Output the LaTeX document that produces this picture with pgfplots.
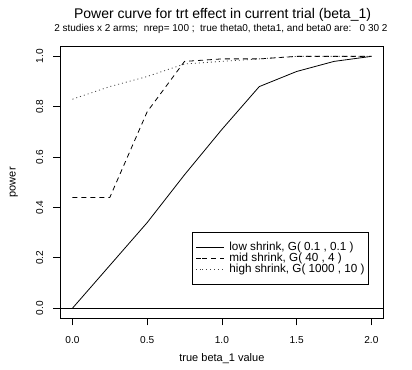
\documentclass[border=0pt]{standalone}
\usepackage{pgfplots}
\pgfplotsset{compat=1.18}
\usepackage{fontspec}
\setmainfont{Liberation Sans}
\pgfplotstableread{
x low mid high
0.00 0.00 0.44 0.83
0.25 0.17 0.44 0.88
0.50 0.34 0.78 0.92
0.75 0.53 0.98 0.97
1.00 0.71 0.99 0.98
1.25 0.88 0.99 0.99
1.50 0.94 1.00 1.00
1.75 0.98 1.00 1.00
2.00 1.00 1.00 1.00
}\datatable
\begin{document}
\begin{tikzpicture}[x=1bp,y=1bp]
\path[use as bounding box] (-60.5,-51.7) rectangle (351.5,318.3);
\begin{axis}[
  at={(0,0)}, anchor=south west,
  scale only axis, width=322.8bp, height=272bp,
  xmin=-0.08, xmax=2.08, ymin=-0.04, ymax=1.04,
  xtick={0,0.5,1,1.5,2}, ytick={0,0.2,0.4,0.6,0.8,1.0},
  xticklabels={0.0,0.5,1.0,1.5,2.0},
  yticklabels={0.0,0.2,0.4,0.6,0.8,1.0},
  xtick pos=bottom, ytick pos=left,
  tick align=outside, major tick length=7bp,
  tick style={black, line width=0.8bp},
  axis line style={line width=0.8bp},
  every tick label/.append style={font=\fontsize{10.1bp}{12bp}\selectfont, inner sep=0pt},
  xticklabel style={anchor=north},
  yticklabel style={rotate=90, anchor=south},
  xticklabel shift=11bp, yticklabel shift=10bp,
  xlabel={true beta\_1 value}, ylabel={power},
  label style={font=\fontsize{11bp}{13bp}\selectfont},
  xlabel style={at={(axis description cs:0.5,-0.147)}, anchor=center},
  ylabel style={at={(axis description cs:-0.145,0.5)}, anchor=center},
  legend cell align=left,
  legend image code/.code={\path (0bp,0bp) -- (6bp,0bp); \draw[#1] (6bp,0bp) -- (27.6bp,0bp);},
  legend style={at={(0.4083,0.125)}, anchor=south west, draw=black, line width=0.6bp,
    font=\fontsize{11.7bp}{13bp}\selectfont, inner xsep=3.4bp, inner ysep=9.5bp,
    row sep=0bp, column sep=5bp,
    nodes={inner sep=0pt, text height=8.5bp, text depth=2.5bp}},
  clip=false,
]
\addplot[black, line width=0.8bp] table[x=x,y=low] {\datatable};
\addlegendentry{low shrink, G( 0.1 , 0.1 )}
\addplot[black, line width=0.8bp, dash pattern=on 5bp off 4bp] table[x=x,y=mid] {\datatable};
\addlegendentry{mid shrink, G( 40 , 4 )}
\addplot[black!75, line width=0.8bp, dash pattern=on 1bp off 3bp] table[x=x,y=high] {\datatable};
\addlegendentry{high shrink, G( 1000 , 10 )}
\draw[black, line width=0.8bp] (axis cs:-0.08,0) -- (axis cs:2.08,0);
\node[font=\fontsize{14bp}{16bp}\selectfont] at (axis description cs:0.502,1.115) {Power curve for trt effect in current trial (beta\_1)};
\node[font=\fontsize{10bp}{12bp}\selectfont] at (axis description cs:0.497,1.0636) {2 studies x 2 arms;\ \ nrep= 100 ;\ \ true theta0, theta1, and beta0 are:\ \ \ 0 30 2};
\end{axis}
\end{tikzpicture}
\end{document}
